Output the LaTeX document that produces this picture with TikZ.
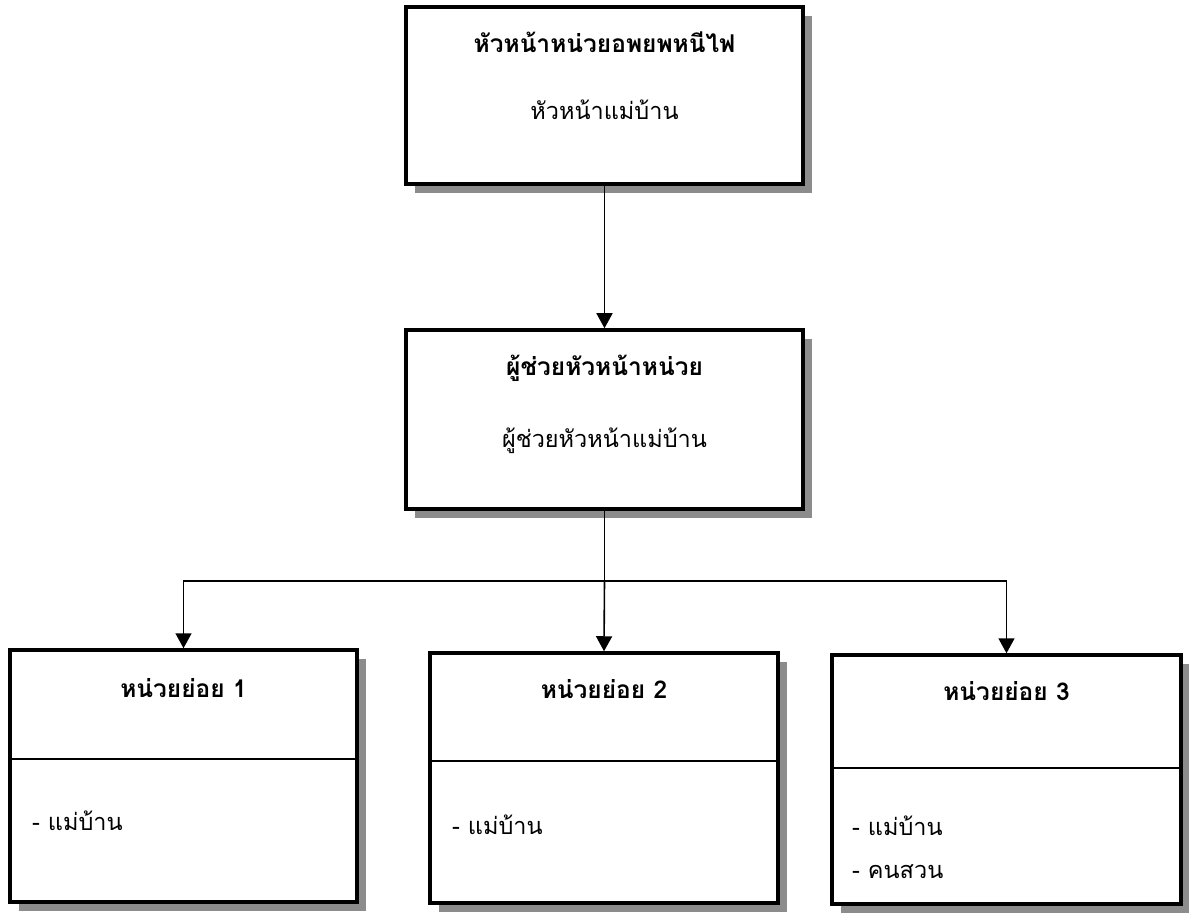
\documentclass[tikz,border=0pt]{standalone}
\usepackage{fontspec}
\newfontfamily\thaifont[Script=Thai]{Loma}
\usetikzlibrary{arrows.meta,shadows}
\definecolor{shgray}{HTML}{8C8C8C}
\begin{document}
\begin{tikzpicture}[x=1pt,y=-1pt,
  box/.style={draw=black, line width=3.5pt, fill=white, rectangle, inner sep=0pt,
    drop shadow={shadow xshift=9pt, shadow yshift=-9pt, fill=shgray, opacity=1}},
  conn/.style={line width=1.6pt, draw=black, -{Triangle[length=15pt,width=16pt]}},
  plain/.style={line width=1.6pt, draw=black},
  divider/.style={line width=1.6pt, draw=black},
  ttl/.style={font=\thaifont\bfseries\fontsize{24.5}{28}\selectfont, anchor=base, inner sep=0pt},
  txt/.style={font=\thaifont\fontsize{23.5}{28}\selectfont, anchor=base, inner sep=0pt},
  item/.style={font=\thaifont\fontsize{23.5}{28}\selectfont, anchor=base west, inner sep=0pt}]
\fill[white] (0,0) rectangle (1189,917);
\useasboundingbox (0,0) rectangle (1189,917);

% boxes
\node[box, minimum width=397pt, minimum height=177pt] (top) at (604.5,95.5) {};
\node[box, minimum width=397pt, minimum height=179pt] (mid) at (604.5,419.5) {};
\node[box, minimum width=347pt, minimum height=252pt] (b1) at (183.5,776) {};
\node[box, minimum width=348pt, minimum height=250pt] (b2) at (604,778) {};
\node[box, minimum width=349pt, minimum height=249pt] (b3) at (1006.5,779.5) {};

% dividers
\coordinate (d1) at (0,759);
\coordinate (d2) at (0,761);
\coordinate (d3) at (0,768);
\draw[divider] (b1.west |- d1) -- (b1.east |- d1);
\draw[divider] (b2.west |- d2) -- (b2.east |- d2);
\draw[divider] (b3.west |- d3) -- (b3.east |- d3);

% texts
\node[ttl] (toptitle) at (604.5,53) {หัวหน้าหน่วยอพยพหนีไฟ};
\node[txt] (topsub) at (604.5,120) {หัวหน้าแม่บ้าน};
\node[ttl] (midtitle) at (604.5,375) {ผู้ช่วยหัวหน้าหน่วย};
\node[txt] (midsub) at (604.5,447) {ผู้ช่วยหัวหน้าแม่บ้าน};
\node[ttl] (b1title) at (183.5,697) {หน่วยย่อย 1};
\node[ttl] (b2title) at (604,698) {หน่วยย่อย 2};
\node[ttl] (b3title) at (1006.5,700) {หน่วยย่อย 3};
\node[item] (b1item) at (32,830) {- แม่บ้าน};
\node[item] (b2item) at (452,834) {- แม่บ้าน};
\node[item] (b3itema) at (852,835) {- แม่บ้าน};
\node[item] (b3itemb) at (852,878) {- คนสวน};

% connectors
\draw[conn] (top.south) -- (mid.north);
\coordinate (fork) at (604.5,581);
\draw[plain] (mid.south) -- (fork);
\draw[conn] (fork) -- (b2.north);
\draw[conn] (fork) -| (b1.north);
\draw[conn] (fork) -| (b3.north);
\end{tikzpicture}
\end{document}
